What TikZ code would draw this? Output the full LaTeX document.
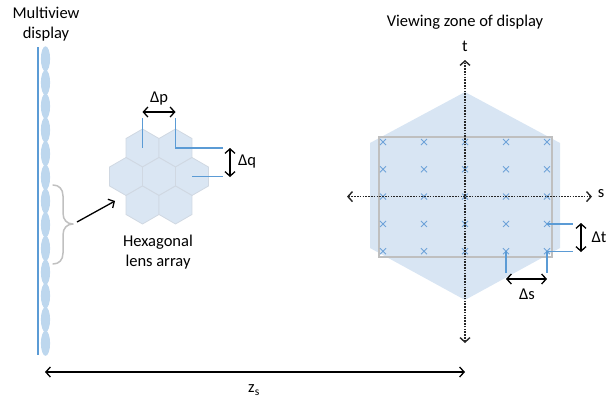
\documentclass[tikz,border=0pt]{standalone}
\usepackage{fontspec}
\setmainfont{Carlito}
\usetikzlibrary{arrows.meta,shapes.geometric,shapes.misc}
\definecolor{lensblue}{HTML}{BDD7EE}
\definecolor{lineblue}{HTML}{5B9BD5}
\definecolor{hexfill}{HTML}{DAE6F3}
\definecolor{hexedge}{HTML}{D0D8E2}
\definecolor{zonefill}{HTML}{D8E5F3}
\definecolor{rectgray}{HTML}{BFBFBF}
\definecolor{crossblue}{HTML}{6FA3D9}
\definecolor{axisgray}{HTML}{262626}
\definecolor{bracegray}{HTML}{C0C0C0}
\begin{document}
\begin{tikzpicture}[x=1pt,y=-1pt,
  lbl/.style={font=\fontsize{16.5}{19.5}\selectfont, align=center, inner sep=0pt},
  hexcell/.style={regular polygon, regular polygon sides=6, shape border rotate=30,
    minimum size=38pt, inner sep=0pt, outer sep=0pt, fill=hexfill, draw=hexedge, line width=0.8pt},
  bluel/.style={draw=lineblue, line width=1.2pt},
  chev/.tip={Straight Barb[length=4.5pt,width=10pt]},
  dimarrow/.style={draw=black, line width=1.3pt, chev-chev},
  axisline/.style={draw=axisgray, line width=1.4pt, dash pattern=on 1.6pt off 1.2pt, chev-chev},
  xmark/.style={cross out, draw=crossblue, line width=0.9pt, minimum size=6pt, inner sep=0pt, outer sep=0pt}
]
\useasboundingbox (0,0) rectangle (614,402);

% ---- multiview display ----
\node[lbl] (mvlabel) at (46,24) {Multiview\\display};
\coordinate (dtop) at (38,47);
\coordinate (dbot) at (38,355);
\draw[lineblue, line width=1.2pt] (dtop) -- (dbot);
\foreach \i in {0,...,12}{
  \fill[lensblue] (45.5,{58.85+23.7*\i}) ellipse [x radius=4.6, y radius=12.6];
}
\coordinate (btop) at (53,185);
\coordinate (bbot) at (53,264);
\coordinate (bpt) at (73,224);
\draw[bracegray, line width=1.5pt, line cap=round, line join=round]
  (btop) .. controls (59,185) and (63,189) .. (63,196) -- (63,213)
  .. controls (63,220) and (67,224) .. (bpt)
  .. controls (67,224) and (63,228) .. (63,235) -- (63,253)
  .. controls (63,260) and (59,264) .. (bbot);
\coordinate (btip) at (77,222);

% ---- hexagonal lens array ----
\node[hexcell] (h1) at (142.5,148) {};
\node[hexcell] (h2) at (175.5,148) {};
\node[hexcell] (h3) at (126,176.5) {};
\node[hexcell] (h4) at (159,176.5) {};
\node[hexcell] (h5) at (192,176.5) {};
\node[hexcell] (h6) at (142.5,205) {};
\node[hexcell] (h7) at (175.5,205) {};
\coordinate (atip) at (115,201);
\draw[black, line width=1.3pt, -{Straight Barb[length=4.5pt,width=10pt]}] (btip) -- (atip);
\node[lbl] (hexlabel) at (158,252) {Hexagonal\\lens array};

\coordinate (pl) at (142.5,118);
\coordinate (pr) at (175.5,118);
\coordinate (qt) at (223,148);
\coordinate (qb) at (223,176.5);
\draw[bluel] (pl) -- (h1.center);
\draw[bluel] (pr) -- (h2.center) -- (qt);
\draw[bluel] (h5.center) -- (qb);
\coordinate (pa) at (142.5,112);
\coordinate (pb) at (175.5,112);
\draw[dimarrow] (pa) -- (pb);
\node[lbl] (dp) at (159,99) {Δp};
\coordinate (qa) at (230,148);
\coordinate (qc) at (230,177);
\draw[dimarrow] (qa) -- (qc);
\node[lbl] (dq) at (247,162) {Δq};

% ---- viewing zone ----
\node[lbl] (vzlabel) at (465,22) {Viewing zone of display};
\fill[zonefill] (465,92) -- (560,143) -- (560,248) -- (465,300) -- (370,248) -- (370,143) -- cycle;
\draw[rectgray, line width=1.8pt] (379,137) rectangle (552,257);
\foreach \c [count=\ci] in {383,424,465,506,547}{
  \foreach \r [count=\ri] in {142,169.3,196.6,223.9,251.2}{
    \node[xmark] (x\ci\ri) at (\c,\r) {};
  }
}
\coordinate (sl) at (347,196.6);
\coordinate (sr) at (592,196.6);
\coordinate (tt) at (465,60);
\coordinate (tb) at (465,343);
\draw[axisline] (sl) -- (sr);
\draw[axisline] (tb) -- (tt);
\node[lbl] (slabel) at (601,194) {s};
\node[lbl] (tlabel) at (465,46) {t};

\coordinate (ta) at (573,223.9);
\coordinate (tbb) at (573,251.2);
\draw[bluel] (x54.center) -- (ta);
\draw[bluel] (x55.center) -- (tbb);
\coordinate (dta) at (581,223);
\coordinate (dtb) at (581,252);
\draw[dimarrow] (dta) -- (dtb);
\node[lbl] (dt) at (599,237) {Δt};

\coordinate (sa) at (506,273);
\coordinate (sb) at (547,273);
\draw[bluel] (x45.center) -- (sa);
\draw[bluel] (x55.center) -- (sb);
\coordinate (dsa) at (506,279);
\coordinate (dsb) at (547,279);
\draw[dimarrow] (dsa) -- (dsb);
\node[lbl] (ds) at (527,294) {Δs};

% ---- z_s ----
\coordinate (za) at (45,372);
\coordinate (zb) at (465,372);
\draw[dimarrow] (za) -- (zb);
\node[lbl] (zs) at (254,390) {z\textsubscript{s}};
\end{tikzpicture}
\end{document}
